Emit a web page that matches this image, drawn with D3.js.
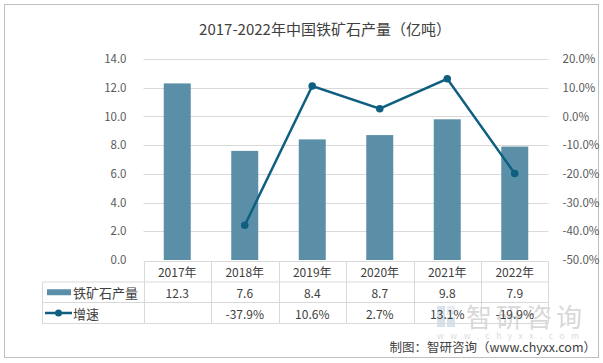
<!DOCTYPE html>
<html>
<head>
<meta charset="utf-8">
<script src="https://cdn.jsdelivr.net/npm/d3@7"></script>
<style>
  body { margin: 0; background: #fff; }
  text { font-family: "Noto Sans CJK SC", "Noto Sans", sans-serif; }
</style>
</head>
<body>
<div id="chartArea"></div>
<script>
// data
var years = ["2017年", "2018年", "2019年", "2020年", "2021年", "2022年"];
var output = [12.3, 7.6, 8.4, 8.7, 9.8, 7.9];
var growth = [null, -37.9, 10.6, 2.7, 13.1, -19.9];
var leftTicks = [0, 2, 4, 6, 8, 10, 12, 14];
var rightTicks = [-50, -40, -30, -20, -10, 0, 10, 20];

var W = 603, H = 363;
var plot = { left: 143.5, right: 548.5, top: 59, bottom: 260 };

var svg = d3.select("#chartArea").append("svg")
  .attr("width", W)
  .attr("height", H);

// outer frame
svg.append("rect")
  .attr("x", 4.5).attr("y", 4.5)
  .attr("width", 594).attr("height", 353)
  .attr("fill", "#fff")
  .attr("stroke", "#bfbfbf");

// title
svg.append("text")
  .attr("x", 325).attr("y", 35)
  .attr("text-anchor", "middle")
  .attr("font-size", 15)
  .attr("fill", "#404040")
  .text("2017-2022年中国铁矿石产量（亿吨）");

// scales
var x = d3.scaleBand().domain(years).range([plot.left, plot.right]);
var yL = d3.scaleLinear().domain([0, 14]).range([plot.bottom, plot.top]);
var yR = d3.scaleLinear().domain([-50, 20]).range([plot.bottom, plot.top]);

// gridlines
svg.append("g").selectAll("line")
  .data(leftTicks.slice(1))
  .enter().append("line")
  .attr("x1", plot.left).attr("x2", plot.right)
  .attr("y1", function(d) { return Math.round(yL(d)) + 0.5; })
  .attr("y2", function(d) { return Math.round(yL(d)) + 0.5; })
  .attr("stroke", "#d9d9d9");

// watermark (behind the marks' text)
var wm = svg.append("g").attr("opacity", 0.4);
wm.append("rect").attr("x", 437).attr("y", 306).attr("width", 8).attr("height", 21).attr("fill", "#9fb7cb");
wm.append("rect").attr("x", 447).attr("y", 306).attr("width", 8).attr("height", 9).attr("fill", "#c5d3df");
wm.append("rect").attr("x", 447).attr("y", 317).attr("width", 8).attr("height", 10).attr("fill", "#9fb7cb");
wm.append("text").attr("x", 466).attr("y", 327).attr("font-size", 26).attr("fill", "#a0a0a0")
  .attr("letter-spacing", 4).text("智研咨询");
wm.append("text").attr("x", 437).attr("y", 338.5).attr("font-size", 8.5).attr("fill", "#a6a6a6")
  .attr("letter-spacing", 6.5).text("www.chyxx.com");

// left axis
var axL = svg.append("g")
  .attr("transform", "translate(" + (plot.left - 14) + ",0)")
  .call(d3.axisLeft(yL).tickValues(leftTicks).tickFormat(d3.format(".1f")).tickSize(0));
axL.select(".domain").remove();
axL.selectAll("text").attr("font-size", 11.5).attr("fill", "#595959")
  .attr("font-family", "'Open Sans', 'Noto Sans', sans-serif");

// right axis
var axR = svg.append("g")
  .attr("transform", "translate(" + (plot.right + 11) + ",0)")
  .call(d3.axisRight(yR).tickValues(rightTicks).tickFormat(function(d) { return d.toFixed(1) + "%"; }).tickSize(0));
axR.select(".domain").remove();
axR.selectAll("text").attr("font-size", 11.5).attr("fill", "#595959")
  .attr("font-family", "'Open Sans', 'Noto Sans', sans-serif");

// bars
var barW = 27;
svg.append("g").selectAll("rect")
  .data(output)
  .enter().append("rect")
  .attr("x", function(d, i) { return x(years[i]) + x.bandwidth() / 2 - barW / 2; })
  .attr("y", function(d) { return yL(d); })
  .attr("width", barW)
  .attr("height", function(d) { return plot.bottom - yL(d); })
  .attr("fill", "#5b8fa8");

// growth line
var pts = growth.map(function(d, i) { return { year: years[i], v: d }; })
  .filter(function(d) { return d.v !== null; });
var lineGen = d3.line()
  .x(function(d) { return x(d.year) + x.bandwidth() / 2; })
  .y(function(d) { return yR(d.v); });
svg.append("path")
  .datum(pts)
  .attr("d", lineGen)
  .attr("fill", "none")
  .attr("stroke", "#0f5f80")
  .attr("stroke-width", 2.5);
svg.append("g").selectAll("circle")
  .data(pts)
  .enter().append("circle")
  .attr("cx", function(d) { return x(d.year) + x.bandwidth() / 2; })
  .attr("cy", function(d) { return yR(d.v); })
  .attr("r", 3.8)
  .attr("fill", "#0f5f80");

// data table
var rows = [261.5, 282, 302.5, 323.5];
var tableLeft = 42.5;
var tcol = "#d9d9d9";
var table = svg.append("g");
// horizontal lines
table.append("line").attr("x1", plot.left).attr("x2", plot.right).attr("y1", rows[0]).attr("y2", rows[0]).attr("stroke", tcol);
rows.slice(1).forEach(function(r) {
  table.append("line").attr("x1", tableLeft).attr("x2", plot.right).attr("y1", r).attr("y2", r).attr("stroke", tcol);
});
// vertical lines
table.append("line").attr("x1", tableLeft).attr("x2", tableLeft).attr("y1", rows[1]).attr("y2", rows[3]).attr("stroke", tcol);
years.forEach(function(yr, i) {
  var xx = Math.round(x(yr)) + 0.5;
  table.append("line").attr("x1", xx).attr("x2", xx).attr("y1", rows[0]).attr("y2", rows[3]).attr("stroke", tcol);
});
table.append("line").attr("x1", plot.right).attr("x2", plot.right).attr("y1", rows[0]).attr("y2", rows[3]).attr("stroke", tcol);

function cellText(txt, cx, cy) {
  table.append("text")
    .attr("x", cx).attr("y", cy)
    .attr("text-anchor", "middle")
    .attr("dominant-baseline", "central")
    .attr("font-size", 12)
    .attr("fill", "#404040")
    .attr("font-family", "'Open Sans', 'Noto Sans CJK SC', sans-serif")
    .text(txt);
}
years.forEach(function(yr, i) {
  var cx = x(yr) + x.bandwidth() / 2;
  cellText(yr, cx, (rows[0] + rows[1]) / 2);
  cellText(output[i].toFixed(1), cx, (rows[1] + rows[2]) / 2);
  if (growth[i] !== null) cellText(growth[i].toFixed(1) + "%", cx, (rows[2] + rows[3]) / 2);
});

// legend keys inside table
var r1 = (rows[1] + rows[2]) / 2, r2 = (rows[2] + rows[3]) / 2;
table.append("rect").attr("x", 47).attr("y", r1 - 3).attr("width", 24).attr("height", 6).attr("fill", "#5b8fa8");
table.append("text").attr("x", 73).attr("y", r1).attr("dominant-baseline", "central")
  .attr("font-size", 13).attr("fill", "#404040").text("铁矿石产量");
table.append("line").attr("x1", 45).attr("x2", 72).attr("y1", r2).attr("y2", r2)
  .attr("stroke", "#0f5f80").attr("stroke-width", 2.5);
table.append("circle").attr("cx", 58.5).attr("cy", r2).attr("r", 3.5).attr("fill", "#0f5f80");
table.append("text").attr("x", 73).attr("y", r2).attr("dominant-baseline", "central")
  .attr("font-size", 13).attr("fill", "#404040").text("增速");

// source
svg.append("text")
  .attr("x", 596).attr("y", 352)
  .attr("text-anchor", "end")
  .attr("font-size", 12.5)
  .attr("fill", "#404040")
  .text("制图：智研咨询（www.chyxx.com）");
</script>
</body>
</html>
